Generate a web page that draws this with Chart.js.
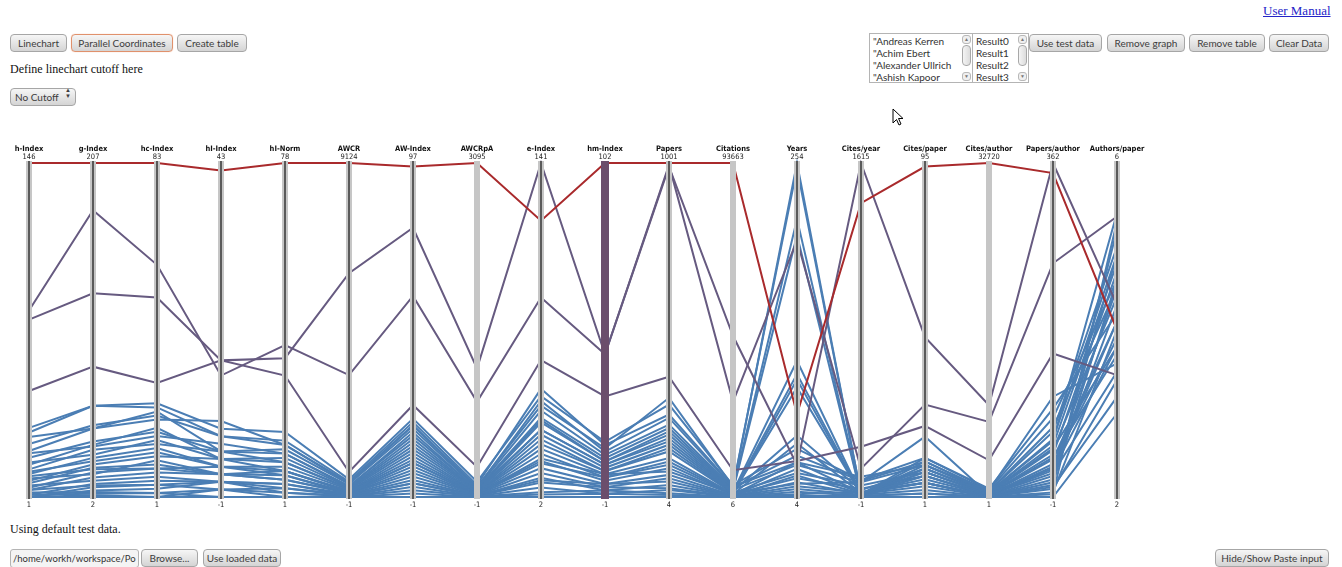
<!DOCTYPE html>
<html>
<head>
<meta charset="utf-8">
<title>Parallel Coordinates</title>
<script src="https://cdn.jsdelivr.net/npm/chart.js@4.4.1/dist/chart.umd.min.js"></script>
<style>
  body { margin:0; width:1342px; height:567px; background:#fff; position:relative; overflow:hidden; }
  .btn { position:absolute; height:18px; box-sizing:border-box; border:1px solid #a6a6a6; border-radius:4px;
         background:linear-gradient(#f6f6f6,#d4d4d4); font:10px Lato, sans-serif; color:#3c3c3c;
         text-align:center; line-height:16px; white-space:nowrap; }
  .btn.active { border-color:#e0916c; box-shadow:0 0 1px #f0b090; }
  .serif { position:absolute; font:12px "Liberation Serif", serif; color:#111; white-space:nowrap; }
  .list { position:absolute; top:33px; height:50px; box-sizing:border-box; border:1px solid #b4b4b4; background:#fff;
          font:10px Lato, sans-serif; color:#333; }
  .list .item { position:absolute; left:3px; height:12px; line-height:12px; white-space:nowrap; }
  .sb { position:absolute; top:1px; right:1px; width:9px; bottom:1px; }
  .sb .arr { position:absolute; left:0; width:9px; height:9px; box-sizing:border-box; border:1px solid #b8b8b8;
             border-radius:3px; background:#efefef; font-size:5px; line-height:7px; text-align:center; color:#777; }
  .sb .thumb { position:absolute; left:0; top:10px; width:9px; height:21px; box-sizing:border-box; border:1px solid #a8a8a8;
               border-radius:4px; background:linear-gradient(90deg,#f4f4f4,#dcdcdc); }
  #wrap { position:absolute; left:0; top:140px; width:1200px; height:380px; }
</style>
</head>
<body>

<div class="btn" style="left:10px;top:34px;width:57px;">Linechart</div>
<div class="btn active" style="left:71px;top:34px;width:102px;">Parallel Coordinates</div>
<div class="btn" style="left:177px;top:34px;width:70px;">Create table</div>
<div class="serif" style="left:10px;top:62px;">Define linechart cutoff here</div>
<div class="btn" style="left:10px;top:88px;width:66px;text-align:left;padding-left:4px;">No Cutoff
  <span style="position:absolute;right:4px;top:-2px;font-size:6px;line-height:6px;">&#9650;<br>&#9660;</span></div>

<a style="position:absolute;left:1263px;top:3px;font:13px 'Liberation Serif',serif;color:#2424c8;text-decoration:underline;">User Manual</a>

<div class="list" style="left:869px;width:104px;">
  <div class="item" style="top:1px;">"Andreas Kerren</div>
  <div class="item" style="top:13px;">"Achim Ebert</div>
  <div class="item" style="top:25px;">"Alexander Ullrich</div>
  <div class="item" style="top:37px;">"Ashish Kapoor</div>
  <div class="sb"><div class="arr" style="top:0;">&#9650;</div><div class="thumb"></div><div class="arr" style="bottom:0;">&#9660;</div></div>
</div>
<div class="list" style="left:972px;width:57px;">
  <div class="item" style="top:1px;">Result0</div>
  <div class="item" style="top:13px;">Result1</div>
  <div class="item" style="top:25px;">Result2</div>
  <div class="item" style="top:37px;">Result3</div>
  <div class="sb"><div class="arr" style="top:0;">&#9650;</div><div class="thumb"></div><div class="arr" style="bottom:0;">&#9660;</div></div>
</div>
<div class="btn" style="left:1029px;top:34px;width:73px;">Use test data</div>
<div class="btn" style="left:1107px;top:34px;width:78px;">Remove graph</div>
<div class="btn" style="left:1189px;top:34px;width:76px;">Remove table</div>
<div class="btn" style="left:1269px;top:34px;width:60px;">Clear Data</div>

<svg style="position:absolute;left:892px;top:108px;" width="14" height="20" viewBox="0 0 14 20">
  <path d="M1 1 L1 15 L4.5 11.5 L7 17 L9 16 L6.5 10.5 L11 10.5 Z" fill="#fff" stroke="#000" stroke-width="1"/>
</svg>

<div id="wrap"><canvas id="pc" width="1200" height="380"></canvas></div>

<div class="serif" style="left:10px;top:522px;">Using default test data.</div>
<div style="position:absolute;left:10px;top:549px;width:129px;height:19px;box-sizing:border-box;border:1px solid #b4b4b4;border-radius:3px;background:#f4f4f4;font:9.5px Lato,sans-serif;color:#333;line-height:17px;padding-left:2px;white-space:nowrap;overflow:hidden;">/home/workh/workspace/Po</div>
<div class="btn" style="left:141px;top:549px;width:57px;">Browse...</div>
<div class="btn" style="left:203px;top:549px;width:78px;">Use loaded data</div>
<div class="btn" style="left:1215px;top:549px;width:114px;">Hide/Show Paste input</div>

<script>
// Bibliometric indicators, one axis per metric
const metrics = ['h-Index','g-Index','hc-Index','hI-Index','hI-Norm','AWCR','AW-Index','AWCRpA','e-Index',
                 'hm-Index','Papers','Citations','Years','Cites/year','Cites/paper','Cites/author','Papers/author','Authors/paper'];
// Axis range labels (top = maximum, bottom = minimum)
const axisMax = [146, 207, 83, 43, 78, 9124, 97, 3095, 141, 102, 1001, 93663, 254, 1615, 95, 32720, 362, 6];
const axisMin = [1, 2, 1, -1, 1, -1, -1, -1, 2, -1, 4, 6, 4, -1, 1, 1, -1, 2];

// One entry per result set (Result0 ... Result30)
const hIndex         = [146, 82, 78, 47, 31, 29, 27, 21, 20, 15, 13, 11, 8, 7, 5, 4, 2, 1, 1, 2, 1, 3, 6, 9, 12, 18, 24, 4, 10, 16, 1];
const gIndex         = [207, 178, 127, 82, 58, 58, 44, 44, 33, 34, 31, 26, 22, 20, 17, 14, 10, 8, 6, 4, 2, 5, 12, 16, 24, 36, 46, 9, 19, 28, 3];
const hcIndex        = [83, 58, 50, 29, 24, 23, 20, 22, 16, 18, 14, 13, 11, 9, 8, 7, 5, 4, 3, 2, 1, 2, 6, 10, 12, 17, 21, 4, 8, 15, 1];
const hIIndex        = [42, 15, 17, 17, 8, 7, 9, 5, 6, 4, 5, 3, 4, 2, 3, 2, 1, 0, 1, -1, -1, 0, 1, 2, 3, 5, 7, 1, 2, 4, 0];
const hINorm         = [78, 36, 33, 29, 16, 14, 13, 12, 11, 10, 9, 8, 7, 7, 6, 5, 4, 3, 2, 1, 1, 2, 4, 6, 7, 11, 13, 3, 5, 9, 1];
const awcr           = [9124, 3330, 6113, 683, 480, 420, 390, 350, 300, 260, 220, 200, 170, 140, 120, 100, 80, 60, 40, 20, -1, 10, 50, 90, 150, 280, 360, 30, 110, 240, 5];
const awIndex        = [96, 58, 78, 26, 22, 21, 20, 19, 17, 16, 14, 13, 12, 10, 9, 8, 6, 5, 3, 1, -1, 2, 4, 7, 11, 18, 20, 3, 9, 15, 0];
const awcrpa         = [3095, 881, 1191, 278, 140, 110, 95, 80, 70, 60, 55, 48, 40, 35, 30, 25, 20, 15, 10, 5, -1, 3, 12, 22, 38, 65, 85, 8, 28, 58, 2];
const eIndex         = [117, 85, 141, 59, 44, 47, 40, 38, 35, 33, 30, 28, 26, 22, 20, 17, 14, 12, 10, 6, 2, 4, 9, 16, 24, 34, 42, 8, 18, 30, 3];
const hmIndex        = [102, 43, 43, 30, 16, 15, 14, 12, 11, 10, 9, 8, 7, 6, 5, 4, 3, 2, 1, 0, -1, 1, 3, 5, 7, 10, 13, 2, 6, 9, 0];
const papers         = [1001, 995, 990, 363, 280, 250, 300, 220, 210, 190, 170, 160, 140, 120, 110, 90, 70, 60, 40, 25, 4, 15, 50, 100, 150, 200, 240, 30, 80, 180, 10];
const citations      = [93663, 26700, 45220, 7500, 3300, 3000, 2900, 2500, 2100, 1800, 1500, 1300, 1100, 900, 800, 600, 450, 300, 200, 100, 6, 40, 250, 700, 1200, 2000, 2700, 150, 1000, 1600, 20];
const years          = [66, 196, 28, 31, 40, 250, 30, 254, 212, 200, 106, 96, 86, 92, 44, 30, 25, 20, 15, 10, 4, 8, 12, 18, 22, 28, 35, 6, 14, 50, 5];
const citesPerYear   = [1421, 136, 1615, 242, 82, 12, 97, 10, 10, 9, 14, 14, 13, 10, 18, 20, 18, 15, 13, 10, -1, 5, 21, 39, 55, 71, 77, 25, 71, 32, 4];
const citesPerPaper  = [94, 27, 46, 21, 12, 12, 10, 11, 10, 9, 9, 8, 8, 7, 7, 6, 5, 5, 4, 3, 1, 2, 5, 7, 8, 10, 11, 5, 18, 9, 2];
const citesPerAuthor = [32720, 7360, 9000, 3600, 820, 700, 650, 560, 480, 400, 350, 300, 260, 200, 180, 150, 110, 80, 50, 30, 1, 10, 60, 160, 280, 440, 600, 40, 220, 380, 5];
const papersPerAuthor= [351, 253, 362, 155, 95, 85, 108, 70, 60, 55, 50, 45, 40, 35, 32, 28, 22, 18, 12, 8, -1, 4, 15, 30, 42, 62, 75, 10, 25, 52, 2];
const authorsPerPaper= [4.0, 5.36, 4.3, 3.46, 4.2, 4.6, 3.6, 5.0, 5.4, 4.8, 4.4, 4.7, 4.1, 3.9, 4.5, 3.8, 4.3, 4.9, 5.2, 3.4, 3.0, 4.0, 4.6, 4.1, 3.7, 4.9, 4.5, 3.2, 3.5, 3.8, 5.3];

const columns = [hIndex, gIndex, hcIndex, hIIndex, hINorm, awcr, awIndex, awcrpa, eIndex, hmIndex,
                 papers, citations, years, citesPerYear, citesPerPaper, citesPerAuthor, papersPerAuthor, authorsPerPaper];
const colourAxis = metrics.indexOf('hm-Index');
const plainAxes = new Set(['AWCRpA', 'Citations', 'Cites/author']);

// scale each value onto its own axis (0 = axis minimum, 1 = axis maximum)
const norm = (v, k) => (v - axisMin[k]) / (axisMax[k] - axisMin[k]);

function lineColour(t) {
  if (t > 0.9) return '#a92a2c';
  if (t > 0.25) return '#665a80';
  return '#4b7eb4';
}

const datasets = hIndex.map((_, i) => {
  const t = norm(columns[colourAxis][i], colourAxis);
  return {
    label: 'Result' + i,
    data: columns.map((col, k) => norm(col[i], k)),
    borderColor: lineColour(t),
    borderWidth: 2,
    pointRadius: 0,
    tension: 0,
    fill: false,
    clip: false
  };
});

const axesPlugin = {
  id: 'pcAxes',
  afterDatasetsDraw(chart) {
    const { ctx, scales: { x, y } } = chart;
    const top = y.getPixelForValue(1), bottom = y.getPixelForValue(0);
    ctx.save();
    metrics.forEach((name, k) => {
      const px = Math.round(x.getPixelForValue(k));
      if (k === colourAxis) {
        ctx.fillStyle = '#6b4e6c';
        ctx.fillRect(px - 4, top - 2, 8, bottom - top + 4);
      } else {
        ctx.fillStyle = '#c6c6c6';
        ctx.fillRect(px - 3, top - 2, 6, bottom - top + 4);
        if (!plainAxes.has(name)) {
          ctx.fillStyle = '#5a5a5a';
          ctx.fillRect(px - 1, top - 2, 2, bottom - top + 4);
        }
      }
      ctx.textAlign = 'center';
      ctx.textBaseline = 'middle';
      ctx.fillStyle = '#111';
      ctx.font = 'bold 7.5px "DejaVu Sans Condensed", "DejaVu Sans", sans-serif';
      ctx.fillText(name, px, top - 14);
      ctx.font = '7.5px "DejaVu Sans Condensed", "DejaVu Sans", sans-serif';
      ctx.fillStyle = '#222';
      ctx.fillText(String(axisMax[k]), px, top - 6);
      ctx.fillText(String(axisMin[k]), px, bottom + 8);
    });
    ctx.restore();
  }
};

new Chart(document.getElementById('pc'), {
  type: 'line',
  data: { labels: metrics, datasets },
  options: {
    responsive: false,
    animation: false,
    events: [],
    layout: { padding: { left: 29, right: 83, top: 23, bottom: 23 } },
    scales: {
      x: { type: 'category', display: false, offset: false },
      y: { type: 'linear', display: false, min: 0, max: 1 }
    },
    plugins: { legend: { display: false }, tooltip: { enabled: false } }
  },
  plugins: [axesPlugin]
});
</script>
</body>
</html>
